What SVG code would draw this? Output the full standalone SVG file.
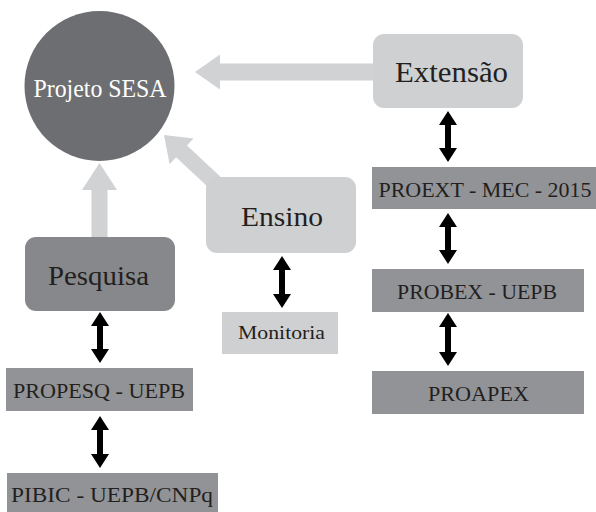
<svg xmlns="http://www.w3.org/2000/svg" width="596" height="512" viewBox="0 0 596 512">
<style>
.bg{fill:#ffffff}
.garrow{fill:#d1d2d4}
.barrow{fill:#000000}
.light{fill:#cfd0d2}
.dark{fill:#87888b}
.mid{fill:#929396}
.t{font-family:"Liberation Serif","Times New Roman",serif;fill:#231f20;text-anchor:middle}
.w{fill:#ffffff}
</style>
<rect class="bg" x="0" y="0" width="596" height="512"/>
<g id="connectors">
  <polygon class="garrow" transform="translate(195,72)" points="0,0 25,-17.5 25,-8.5 180,-8.5 180,8.5 25,8.5 25,17.5"/>
  <polygon class="garrow" transform="translate(99.5,163) rotate(90)" points="0,0 27,-17.5 27,-8 78,-8 78,8 27,8 27,17.5"/>
  <polygon class="garrow" transform="translate(164,135) rotate(43)" points="0,0 24,-17.5 24,-8 80,-8 80,8 24,8 24,17.5"/>
  <polygon class="barrow" points="100,312 109,326 103,326 103,349 109,349 100,363 91,349 97,349 97,326 91,326"/>
  <polygon class="barrow" points="100,416 109,430 103,430 103,454 109,454 100,468 91,454 97,454 97,430 91,430"/>
  <polygon class="barrow" points="282,256 291,270 285,270 285,294 291,294 282,308 273,294 279,294 279,270 273,270"/>
  <polygon class="barrow" points="448,111 457,125 451,125 451,148 457,148 448,162 439,148 445,148 445,125 439,125"/>
  <polygon class="barrow" points="448,213 457,227 451,227 451,250 457,250 448,264 439,250 445,250 445,227 439,227"/>
  <polygon class="barrow" points="448,313 457,327 451,327 451,352 457,352 448,366 439,352 445,352 445,327 439,327"/>
</g>
<g id="projeto-sesa">
  <circle cx="99.5" cy="86" r="75" fill="#6d6e71"/>
  <text class="t w" x="100" y="97" font-size="25" textLength="133" lengthAdjust="spacingAndGlyphs">Projeto SESA</text>
</g>
<g id="extensao">
  <rect class="light" x="373" y="34" width="150" height="74" rx="11"/>
  <text class="t" x="451.5" y="82" font-size="29" textLength="113" lengthAdjust="spacingAndGlyphs">Extensão</text>
</g>
<g id="ensino">
  <rect class="light" x="206" y="177" width="150" height="76" rx="11"/>
  <text class="t" x="282" y="226" font-size="28" textLength="82" lengthAdjust="spacingAndGlyphs">Ensino</text>
</g>
<g id="pesquisa">
  <rect class="dark" x="25" y="237" width="150" height="74" rx="11"/>
  <text class="t" x="98.5" y="285" font-size="27" textLength="101" lengthAdjust="spacingAndGlyphs">Pesquisa</text>
</g>
<g id="monitoria">
  <rect class="light" x="222" y="312" width="116" height="42"/>
  <text class="t" x="281.5" y="339" font-size="19" textLength="87" lengthAdjust="spacingAndGlyphs">Monitoria</text>
</g>
<g id="propesq">
  <rect class="mid" x="6" y="368" width="187" height="43"/>
  <text class="t" x="99" y="398" font-size="22" textLength="172" lengthAdjust="spacingAndGlyphs">PROPESQ - UEPB</text>
</g>
<g id="pibic">
  <rect class="mid" x="7" y="473" width="211" height="42"/>
  <text class="t" x="112" y="502" font-size="22" textLength="202" lengthAdjust="spacingAndGlyphs">PIBIC - UEPB/CNPq</text>
</g>
<g id="proext">
  <rect class="mid" x="372" y="167" width="224" height="42"/>
  <text class="t" x="485" y="197" font-size="22" textLength="213" lengthAdjust="spacingAndGlyphs">PROEXT - MEC - 2015</text>
</g>
<g id="probex">
  <rect class="mid" x="372" y="269" width="212" height="43"/>
  <text class="t" x="477" y="299" font-size="22" textLength="160" lengthAdjust="spacingAndGlyphs">PROBEX - UEPB</text>
</g>
<g id="proapex">
  <rect class="mid" x="372" y="371" width="212" height="43"/>
  <text class="t" x="478.5" y="401" font-size="22" textLength="101" lengthAdjust="spacingAndGlyphs">PROAPEX</text>
</g>
</svg>
